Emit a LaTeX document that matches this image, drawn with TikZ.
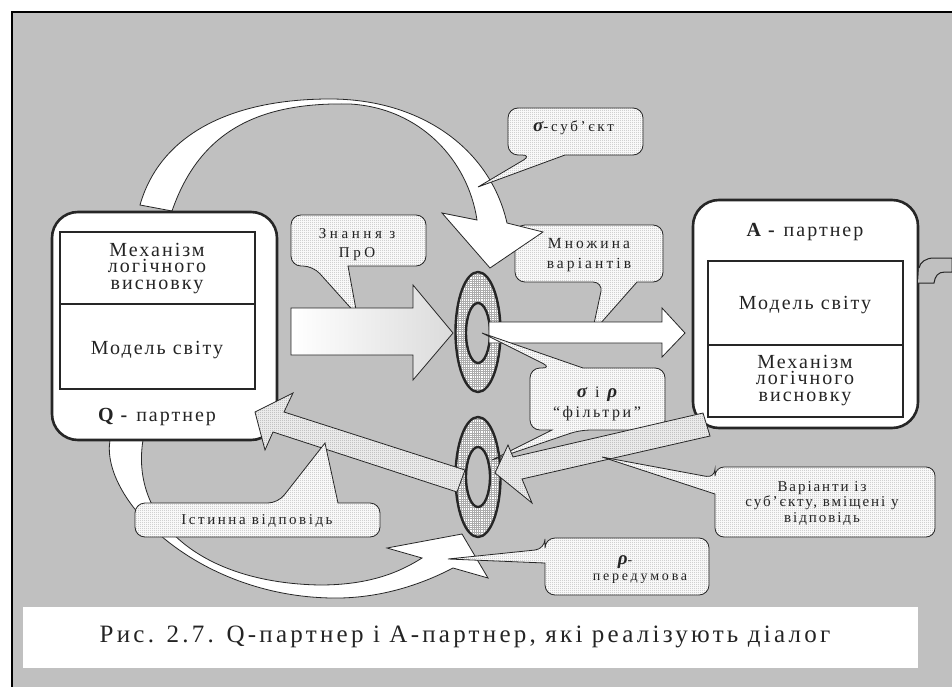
\documentclass[tikz,border=0pt]{standalone}
\usepackage{fontspec}
\setmainfont{Liberation Serif}
\usetikzlibrary{patterns}

\definecolor{bg}{RGB}{192,192,192}
\definecolor{ink}{RGB}{38,38,38}
\definecolor{txt}{RGB}{36,36,36}

% fine grid for the filter rings
\pgfdeclarepatternformonly{finegrid}{\pgfqpoint{-0.5pt}{-0.5pt}}{\pgfqpoint{2.7pt}{2.7pt}}{\pgfqpoint{2.2pt}{2.2pt}}{%
  \pgfsetlinewidth{0.45pt}%
  \pgfpathmoveto{\pgfqpoint{0pt}{1.1pt}}\pgfpathlineto{\pgfqpoint{2.2pt}{1.1pt}}%
  \pgfpathmoveto{\pgfqpoint{1.1pt}{0pt}}\pgfpathlineto{\pgfqpoint{1.1pt}{2.2pt}}%
  \pgfusepath{stroke}}
% fine dots for callouts and grey arrows
\pgfdeclarepatternformonly{finedots}{\pgfqpoint{0pt}{0pt}}{\pgfqpoint{2pt}{2pt}}{\pgfqpoint{2pt}{2pt}}{%
  \pgfpathcircle{\pgfqpoint{1pt}{1pt}}{0.55pt}\pgfusepath{fill}}

% size, letter spacing, line pitch
\newcommand\tf[3]{\fontsize{#1}{#3}\selectfont\addfontfeature{LetterSpace=#2}}
\newcommand\gk[1]{{\fontsize{19}{19}\selectfont\bfseries\itshape #1}}

\tikzset{
  lbl/.style={inner sep=0pt, anchor=base, text=txt, align=center},
  callout/.style={draw=ink, line width=0.8pt, preaction={fill=gray!5}, pattern=finedots, pattern color=gray!80},
  greyarrow/.style={draw=ink, line width=0.8pt, preaction={fill=gray!16}, pattern=finedots, pattern color=gray!90},
  whitearrow/.style={draw=ink, line width=0.8pt, fill=white},
  partner/.style={draw=ink, line width=2.6pt, fill=white, rounded corners=26pt},
  inner/.style={draw=ink, line width=1.1pt},
  ringout/.style={draw=ink, line width=2.4pt, preaction={fill=white}, pattern=finegrid, pattern color=gray!65},
  ringin/.style={draw=ink, line width=2.4pt, fill=bg},
}

\begin{document}
\begin{tikzpicture}[x=1pt,y=-1pt]
\useasboundingbox (0,0) rectangle (952,687);

% page and frame
\fill[white] (0,0) rectangle (952,687);
\fill[bg] (12,12) rectangle (952,687);
\draw[line width=2pt, black] (952,12) -- (12,12) -- (12,687);

% callout: set of variants
\path[callout] (592,333) -- (637,282) [rounded corners=10pt] -- (663,282) -- (663,225) -- (515,225) -- (515,282) -- (603,282) [sharp corners] -- cycle;
\node[lbl, font=\tf{15.5}{20}{20}] (m1) at (589,268) {Множина\\варіантів};

% upper curved arrow (Q-partner to the filter)
\path[whitearrow] (140,205) .. controls (160,135) and (230,99) .. (330,99)
  .. controls (420,99) and (490,148) .. (507,223)
  -- (543,232) -- (490,268) -- (442,213) -- (477,220)
  .. controls (468,160) and (420,108) .. (350,104)
  .. controls (260,102) and (200,130) .. (172,211) -- cycle;

% callout: sigma-subject
\path[callout] (478,187) -- (565,155) [rounded corners=10pt] -- (643,155) -- (643,108) -- (508,108) -- (508,155) -- (532,155) [sharp corners] -- cycle;
\node[lbl, anchor=base west, font=\tf{15}{18}{15}] (s1) at (533,132) {\gk{σ}-суб’єкт};

% lower curved arrow (back to the filter)
\path[whitearrow] (110,440) .. controls (100,500) and (200,600) .. (340,598)
  .. controls (390,597) and (430,580) .. (453,568)
  -- (488,578) -- (462,534) -- (387,548) -- (422,558)
  .. controls (400,572) and (370,585) .. (320,585)
  .. controls (200,583) and (130,520) .. (143,440) -- cycle;

% Q-partner
\path[partner] (52,212) rectangle (277,440);
\draw[inner] (60,232) rectangle (255,389);
\draw[inner] (60,304) -- (255,304);
\node[lbl, font=\tf{20}{10}{16.4}] (q1) at (157,289) {Механізм\\логічного\\висновку};
\node[lbl, font=\tf{20}{10}{20}] (q4) at (157,354) {Модель світу};
\node[lbl, font=\tf{20}{10}{20}] (q5) at (157,421) {\textbf{Q -} партнер};

% A-partner
\path[partner] (693,200) rectangle (918,428);
\draw[inner] (708,261) rectangle (903,417);
\draw[inner] (708,345) -- (903,345);
\node[lbl, font=\tf{20}{10}{20}] (a1) at (805,236) {\textbf{A -} партнер};
\node[lbl, font=\tf{20}{10}{20}] (a2) at (805,309) {Модель світу};
\node[lbl, font=\tf{20}{10}{16.5}] (a3) at (805,401) {Механізм\\логічного\\висновку};
\draw[line width=1pt, draw=ink, fill=bg] (918,283) -- (934,283) .. controls (935,276) and (938,272) .. (945,272) -- (952,272) -- (952,258) -- (934,258) .. controls (926,258) and (920,262) .. (919,268);

% callout: domain knowledge
\path[callout] (357,315) -- (348,266) [rounded corners=10pt] -- (426,266) -- (426,215) -- (291,215) -- (291,266) -- (313,266) [sharp corners] -- cycle;
\node[lbl, font=\tf{15}{24}{19}] (k1) at (357,257) {Знання з\\ПрО};

% shaded arrow into the filter
\shadedraw[left color=white, right color=gray!28, draw=ink, line width=0.8pt]
  (291,308) -- (413,308) -- (413,285) -- (453,333) -- (413,380) -- (413,355) -- (291,355) -- cycle;

% upper filter ring
\path[ringout] (478,332) ellipse [x radius=22.5pt, y radius=60pt];
\path[ringin] (478,333) ellipse [x radius=12pt, y radius=30pt];

% arrow to the A-partner
\path[whitearrow] (489,322) -- (662,322) -- (662,308) -- (685,333) -- (662,357) -- (662,343) -- (489,343) -- cycle;

% lower filter ring
\path[ringout] (478,477) ellipse [x radius=22.5pt, y radius=60pt];
\path[ringin] (478,477) ellipse [x radius=12pt, y radius=30pt];

% answer arrow to the Q-partner
\path[greyarrow] (465,470) -- (284,412) -- (293,393) -- (255,412) -- (265,450) -- (273,432) -- (457,492) -- cycle;

% callout: sigma and rho filters
\path[callout] (482,333) -- (583,368) [rounded corners=10pt] -- (665,368) -- (665,430) -- (580,430) [sharp corners] -- (492,460) -- (552,430) [rounded corners=10pt] -- (530,430) -- (530,368) -- (552,368) [sharp corners] -- cycle;
\node[lbl, font=\tf{16}{16}{20}] (f1) at (597,417) {\gk{σ}\hspace{8pt}і\hspace{8pt}\gk{ρ}\\“фільтри”};

% variants arrow from the A-partner
\path[greyarrow] (703,413) -- (513,457) -- (508,445) -- (495,473) -- (532,503) -- (522,479) -- (710,436) -- cycle;

% callout: variants from the subject
\path[callout] (602,457) -- (715,494) [rounded corners=9pt] -- (715,537) -- (935,537) -- (935,467) -- (715,467) -- (715,478) [sharp corners] -- cycle;
\node[lbl, font=\tf{15}{13}{15.5}] (v1) at (822,522) {Варіанти із\\суб’єкту, вміщені у\\відповідь};

% callout: true answer
\path[callout] (325,443) -- (338,503) [rounded corners=10pt] -- (380,503) -- (380,537) -- (135,537) -- (135,503) -- (278,503) [sharp corners] -- cycle;
\node[lbl, font=\tf{15}{17}{15}] (t1) at (257,524) {Істинна відповідь};

% callout: rho-presupposition
\path[callout] (448,559) -- (545,563) [rounded corners=10pt] -- (545,595) -- (709,595) -- (709,538) -- (545,538) -- (545,549) [sharp corners] -- cycle;
\node[lbl, font=\tf{14}{18}{15}] (r1) at (625,564) {\gk{ρ}-};
\node[lbl, font=\tf{14}{20}{15}] (r2) at (640,580) {передумова};

% caption
\fill[white] (23,607) rectangle (918,668);
\node[lbl, font=\tf{25}{13}{25}] (cap) at (465,642) {Рис. 2.7. Q-партнер і А-партнер, які реалізують діалог};
\end{tikzpicture}
\end{document}
